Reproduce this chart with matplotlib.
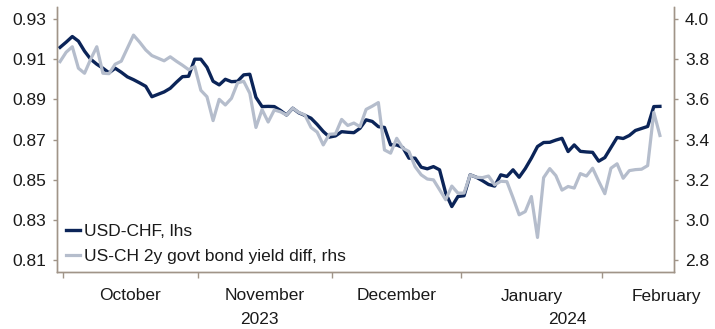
import numpy as np
import pandas as pd
import matplotlib
matplotlib.use("Agg")
import matplotlib.pyplot as plt
import matplotlib.transforms as mtransforms

# business-day series, 29 Sep 2023 .. 14 Feb 2024
dates = pd.bdate_range("2023-09-29", periods=99)

usd_chf = [
    0.9159, 0.9185, 0.9213, 0.9190, 0.9140, 0.9100, 0.9075, 0.9055, 0.9032, 0.9055,
    0.9035, 0.9012, 0.8998, 0.8982, 0.8965, 0.8913, 0.8925, 0.8937, 0.8955, 0.8985,
    0.9013, 0.9015, 0.9100, 0.9100, 0.9060, 0.8990, 0.8972, 0.9000, 0.8988, 0.8990,
    0.9022, 0.9025, 0.8910, 0.8864, 0.8865, 0.8864, 0.8845, 0.8822, 0.8856, 0.8833,
    0.8820, 0.8806, 0.8775, 0.8740, 0.8712, 0.8718, 0.8739, 0.8736, 0.8734, 0.8756,
    0.8798, 0.8790, 0.8764, 0.8760, 0.8673, 0.8673, 0.8660, 0.8607, 0.8607, 0.8562,
    0.8554, 0.8565, 0.8549, 0.8433, 0.8366, 0.8416, 0.8420, 0.8524, 0.8512, 0.8495,
    0.8476, 0.8468, 0.8524, 0.8516, 0.8549, 0.8512, 0.8555, 0.8607, 0.8665, 0.8685,
    0.8686, 0.8697, 0.8706, 0.8640, 0.8673, 0.8641, 0.8638, 0.8636, 0.8592, 0.8610,
    0.8660, 0.8710, 0.8705, 0.8720, 0.8745, 0.8755, 0.8765, 0.8864, 0.8865,
]

yield_diff = [
    3.788, 3.835, 3.862, 3.755, 3.730, 3.800, 3.862, 3.730, 3.728, 3.775,
    3.790, 3.855, 3.920, 3.885, 3.846, 3.818, 3.805, 3.792, 3.812, 3.790,
    3.770, 3.748, 3.763, 3.645, 3.613, 3.494, 3.600, 3.572, 3.605, 3.682,
    3.690, 3.630, 3.460, 3.549, 3.487, 3.547, 3.538, 3.522, 3.556, 3.535,
    3.522, 3.460, 3.437, 3.373, 3.426, 3.428, 3.500, 3.470, 3.482, 3.464,
    3.550, 3.566, 3.584, 3.348, 3.332, 3.406, 3.357, 3.340, 3.265, 3.224,
    3.203, 3.199, 3.150, 3.100, 3.168, 3.133, 3.133, 3.224, 3.212, 3.210,
    3.218, 3.174, 3.192, 3.190, 3.110, 3.025, 3.041, 3.116, 2.912, 3.210,
    3.255, 3.220, 3.148, 3.166, 3.158, 3.230, 3.218, 3.257, 3.192, 3.130,
    3.257, 3.279, 3.207, 3.245, 3.250, 3.252, 3.270, 3.535, 3.420,
]

month_labels = ["October", "November", "December", "January", "February"]
month_starts = ["2023-10-01", "2023-11-01", "2023-12-01", "2024-01-01", "2024-02-01"]
year_labels = ["2023", "2024"]

left_ticks = [0.81, 0.83, 0.85, 0.87, 0.89, 0.91, 0.93]
right_ticks = [2.8, 3.0, 3.2, 3.4, 3.6, 3.8, 4.0]

navy = "#0b2458"
grey = "#b5bdcc"
spine_col = "#a09488"

plt.rcParams["font.family"] = ["Liberation Sans", "DejaVu Sans"]
plt.rcParams["font.size"] = 12.5

x = np.arange(len(dates))
xmin, xmax = -0.5, 100.3

fig = plt.figure(figsize=(7.15, 3.29), dpi=100)
ax = fig.add_axes([57 / 715, 1 - 272 / 329, 617 / 715, 265 / 329])
ax2 = ax.twinx()

l1, = ax.plot(x, usd_chf, color=navy, lw=2.4, solid_joinstyle="round")
l2, = ax2.plot(x, yield_diff, color=grey, lw=2.3, solid_joinstyle="round")

ax.set_xlim(xmin, xmax)
ax.set_ylim(0.804, 0.936)
ax2.set_ylim(2.74, 4.06)
ax.set_yticks(left_ticks)
ax.set_yticklabels([f"{v:.2f}" for v in left_ticks])
ax2.set_yticks(right_ticks)
ax2.set_yticklabels([f"{v:.1f}" for v in right_ticks])

for a in (ax, ax2):
    a.spines["top"].set_visible(False)
    for s in ("left", "right", "bottom"):
        a.spines[s].set_color(spine_col)
        a.spines[s].set_linewidth(1.0)
    a.tick_params(axis="y", length=3, width=1, color=spine_col, pad=5, labelcolor="#1a1a1a")

# month boundaries as x ticks, labels centred on each month
bounds = []
centres = []
for ms in month_starts:
    ms = pd.Timestamp(ms)
    start = int(np.searchsorted(dates, ms))
    n = len(pd.bdate_range(ms, ms + pd.offsets.MonthEnd(0)))
    bounds.append(start - 0.5)
    centres.append(start - 0.5 + n / 2)
ax.set_xticks(bounds)
ax.set_xticklabels([])
ax.tick_params(axis="x", length=4, width=1, color=spine_col)

trans = mtransforms.blended_transform_factory(ax.transData, fig.transFigure)
for lab, c in zip(month_labels, centres):
    ax.text(c, 1 - 296 / 329, lab, transform=trans, ha="center", va="center",
            color="#1a1a1a", clip_on=False)
year_split = bounds[3]
year_pos = [(xmin + year_split) / 2, (year_split + xmax) / 2]
for lab, c in zip(year_labels, year_pos):
    ax.text(c, 1 - 320 / 329, lab, transform=trans, ha="center", va="center",
            color="#1a1a1a", clip_on=False)

leg = ax2.legend([l1, l2], ["USD-CHF, lhs", "US-CH 2y govt bond yield diff, rhs"],
                 loc="lower left", bbox_to_anchor=(0.014, 0.03), frameon=False,
                 handlelength=0.85, handletextpad=0.2, labelspacing=0.55,
                 borderpad=0, borderaxespad=0)
for t in leg.get_texts():
    t.set_color("#1a1a1a")

fig.savefig("out.png", dpi=100)
